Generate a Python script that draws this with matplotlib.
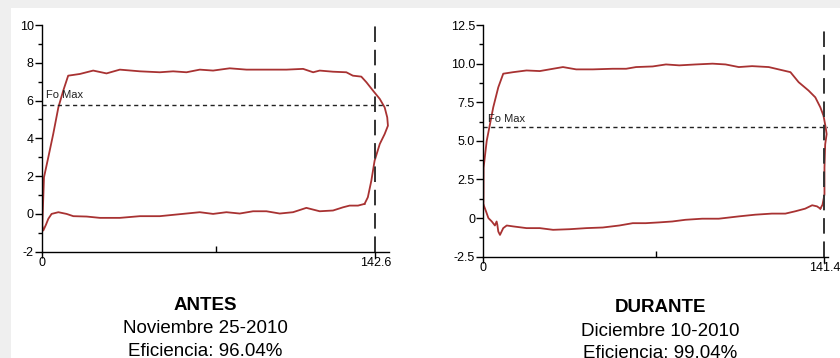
import matplotlib.pyplot as plt
from matplotlib.patches import Rectangle
from matplotlib.ticker import FixedLocator, FixedFormatter

plt.rcParams['font.family'] = ['Liberation Sans', 'DejaVu Sans']

# ---- Carta ANTES (carrera en pulgadas, carga en klb) ----
antes_sube_x = [0.0, 0.1, 0.85, 2.7, 4.8, 7.0, 9.1, 11.2, 16.2, 21.9, 27.6, 33.3, 41.9, 50.4,
                56.1, 61.8, 67.5, 73.2, 80.3, 87.5, 96.0, 104.6, 111.7, 116.0, 118.8, 124.5,
                130.2, 133.0, 136.6, 138.8, 141.6, 144.5, 146.6, 147.7, 148.0, 146.6, 144.5,
                142.3, 140.9, 139.4, 138.0]
antes_sube_y = [-0.6, -0.7, 1.94, 3.0, 4.23, 5.64, 6.53, 7.32, 7.41, 7.59, 7.44, 7.64, 7.55, 7.5,
                7.55, 7.5, 7.64, 7.59, 7.71, 7.64, 7.64, 7.64, 7.68, 7.5, 7.59, 7.53,
                7.5, 7.32, 7.27, 6.97, 6.53, 6.09, 5.64, 5.11, 4.67, 4.23, 3.7,
                2.82, 1.76, 0.88, 0.53]
antes_baja_x = [138.0, 135.2, 131.6, 128.8, 124.5, 118.8, 113.1, 107.4, 101.7, 96.0, 90.3, 84.6,
                78.9, 73.2, 67.5, 61.8, 56.1, 50.4, 41.9, 33.3, 24.8, 19.1, 13.4, 10.5, 7.0,
                4.1, 2.7, 1.7, 0.55, 0.0]
antes_baja_y = [0.53, 0.44, 0.44, 0.35, 0.18, 0.14, 0.32, 0.09, 0.02, 0.14, 0.14, 0.02,
                0.09, 0.0, 0.09, 0.02, -0.05, -0.12, -0.12, -0.21, -0.21, -0.14, -0.12, 0.0, 0.09,
                0.0, -0.26, -0.57, -0.88, -0.6]
antes_fo_max = 5.77
antes_carrera = 142.6

# ---- Carta DURANTE ----
durante_sube_x = [0.0, 0.05, 0.1, 1.4, 2.76, 4.1, 6.2, 8.25, 12.4, 17.9, 23.4, 28.9, 33.0, 38.5,
                  45.4, 53.6, 59.2, 63.3, 70.2, 75.7, 81.2, 88.1, 95.0, 100.4, 105.9, 111.4,
                  118.3, 122.4, 127.3, 130.7, 134.8, 137.6, 139.7, 141.0, 141.9, 142.3, 141.7,
                  141.4, 141.4, 140.6, 139.7]
durante_sube_y = [0.9, 1.09, 3.26, 5.0, 6.09, 7.17, 8.47, 9.35, 9.45, 9.56, 9.52, 9.67, 9.78, 9.63,
                  9.63, 9.67, 9.67, 9.78, 9.82, 9.95, 9.89, 9.95, 10.0, 9.95, 9.78, 9.84,
                  9.78, 9.63, 9.45, 8.8, 8.26, 7.82, 7.17, 6.63, 5.87, 5.44, 4.78,
                  3.26, 1.53, 0.87, 0.61]
durante_baja_x = [139.7, 138.3, 136.3, 133.4, 129.3, 125.2, 119.6, 112.7, 105.9, 97.6, 90.7, 83.8,
                  78.3, 72.8, 67.3, 61.9, 56.4, 49.5, 42.7, 35.8, 28.9, 23.4, 17.9, 12.4, 9.7,
                  8.25, 6.9, 6.2, 5.8, 5.5, 4.8, 3.5, 2.1, 1.1, 0.0]
durante_baja_y = [0.61, 0.76, 0.83, 0.61, 0.44, 0.29, 0.29, 0.22, 0.11, -0.04, -0.04, -0.11,
                  -0.22, -0.28, -0.33, -0.33, -0.48, -0.61, -0.65, -0.72, -0.76, -0.65, -0.65, -0.54, -0.48,
                  -0.65, -1.09, -0.87, -0.43, -0.22, -0.48, -0.22, 0.0, 0.44, 0.9]
durante_fo_max = 5.87
durante_carrera = 141.4

rojo = '#a83232'

fig = plt.figure(figsize=(8.4, 3.58), dpi=100, facecolor='#efefef')
# panel blanco (captura de pantalla)
fig.patches.append(Rectangle((11 / 840, 0), 1, 1 - 8 / 358, transform=fig.transFigure,
                             facecolor='white', edgecolor='none', zorder=-10))


def carta(ax, sx, sy, bx, by, fo, carrera, xmax, ylim, yticks, ylabels, yminor):
    ax.set_facecolor('none')
    ax.plot(sx, sy, color=rojo, lw=1.3)
    ax.plot(bx, by, color=rojo, lw=1.3)
    ax.plot([0, xmax], [fo, fo], color='#222222', lw=1.0, ls=(0, (3, 2.5)))
    ax.text(1.8, fo + 0.25, 'Fo Max', fontsize=8, color='#222222', va='bottom')
    ax.plot([carrera, carrera], [ylim[0], ylim[1]], color='#333333', lw=1.4,
            ls=(0, (8, 4)), clip_on=False)
    ax.set_xlim(0, xmax)
    ax.set_ylim(*ylim)
    for s in ['top', 'right']:
        ax.spines[s].set_visible(False)
    ax.spines['left'].set_linewidth(1.0)
    ax.spines['bottom'].set_linewidth(1.0)
    ax.yaxis.set_major_locator(FixedLocator(yticks))
    ax.yaxis.set_major_formatter(FixedFormatter(ylabels))
    ax.yaxis.set_minor_locator(FixedLocator(yminor))
    ax.xaxis.set_major_locator(FixedLocator([0, carrera]))
    ax.xaxis.set_major_formatter(FixedFormatter(['0', '%.1f' % carrera]))
    ax.xaxis.set_minor_locator(FixedLocator([xmax / 2]))
    ax.tick_params(axis='y', which='major', length=5, width=1, pad=1, labelsize=9)
    ax.tick_params(axis='y', which='minor', length=3, width=1)
    ax.tick_params(axis='x', which='major', length=4, width=1, pad=0, labelsize=9)
    ax.tick_params(axis='x', which='minor', direction='in', length=4, width=1)


ax1 = fig.add_axes([0.05, 0.297, 0.4135, 0.633])
carta(ax1, antes_sube_x, antes_sube_y, antes_baja_x, antes_baja_y, antes_fo_max,
      antes_carrera, 148.6, (-2, 10), [-2, 0, 2, 4, 6, 8, 10],
      ['-2', '0', '2', '4', '6', '8', '10'], [-1, 1, 3, 5, 7, 9])

ax2 = fig.add_axes([0.5754, 0.283, 0.4107, 0.647])
carta(ax2, durante_sube_x, durante_sube_y, durante_baja_x, durante_baja_y, durante_fo_max,
      durante_carrera, 143.0, (-2.5, 12.5), [-2.5, 0, 2.5, 5, 7.5, 10, 12.5],
      ['-2.5', '0', '2.5', '5.0', '7.5', '10.0', '12.5'],
      [-1.25, 1.25, 3.75, 6.25, 8.75, 11.25])

# textos inferiores
fig.text(205 / 840, 1 - 305 / 358, 'ANTES', ha='center', va='center', fontsize=13.5, fontweight='bold')
fig.text(205 / 840, 1 - 328.5 / 358, 'Noviembre 25-2010', ha='center', va='center', fontsize=13.5)
fig.text(205 / 840, 1 - 351.5 / 358, 'Eficiencia: 96.04%', ha='center', va='center', fontsize=13.5)
fig.text(660 / 840, 1 - 308 / 358, 'DURANTE', ha='center', va='center', fontsize=13.5, fontweight='bold')
fig.text(660 / 840, 1 - 331 / 358, 'Diciembre 10-2010', ha='center', va='center', fontsize=13.5)
fig.text(660 / 840, 1 - 354 / 358, 'Eficiencia: 99.04%', ha='center', va='center', fontsize=13.5)

fig.savefig('out.png', dpi=100, facecolor=fig.get_facecolor())
